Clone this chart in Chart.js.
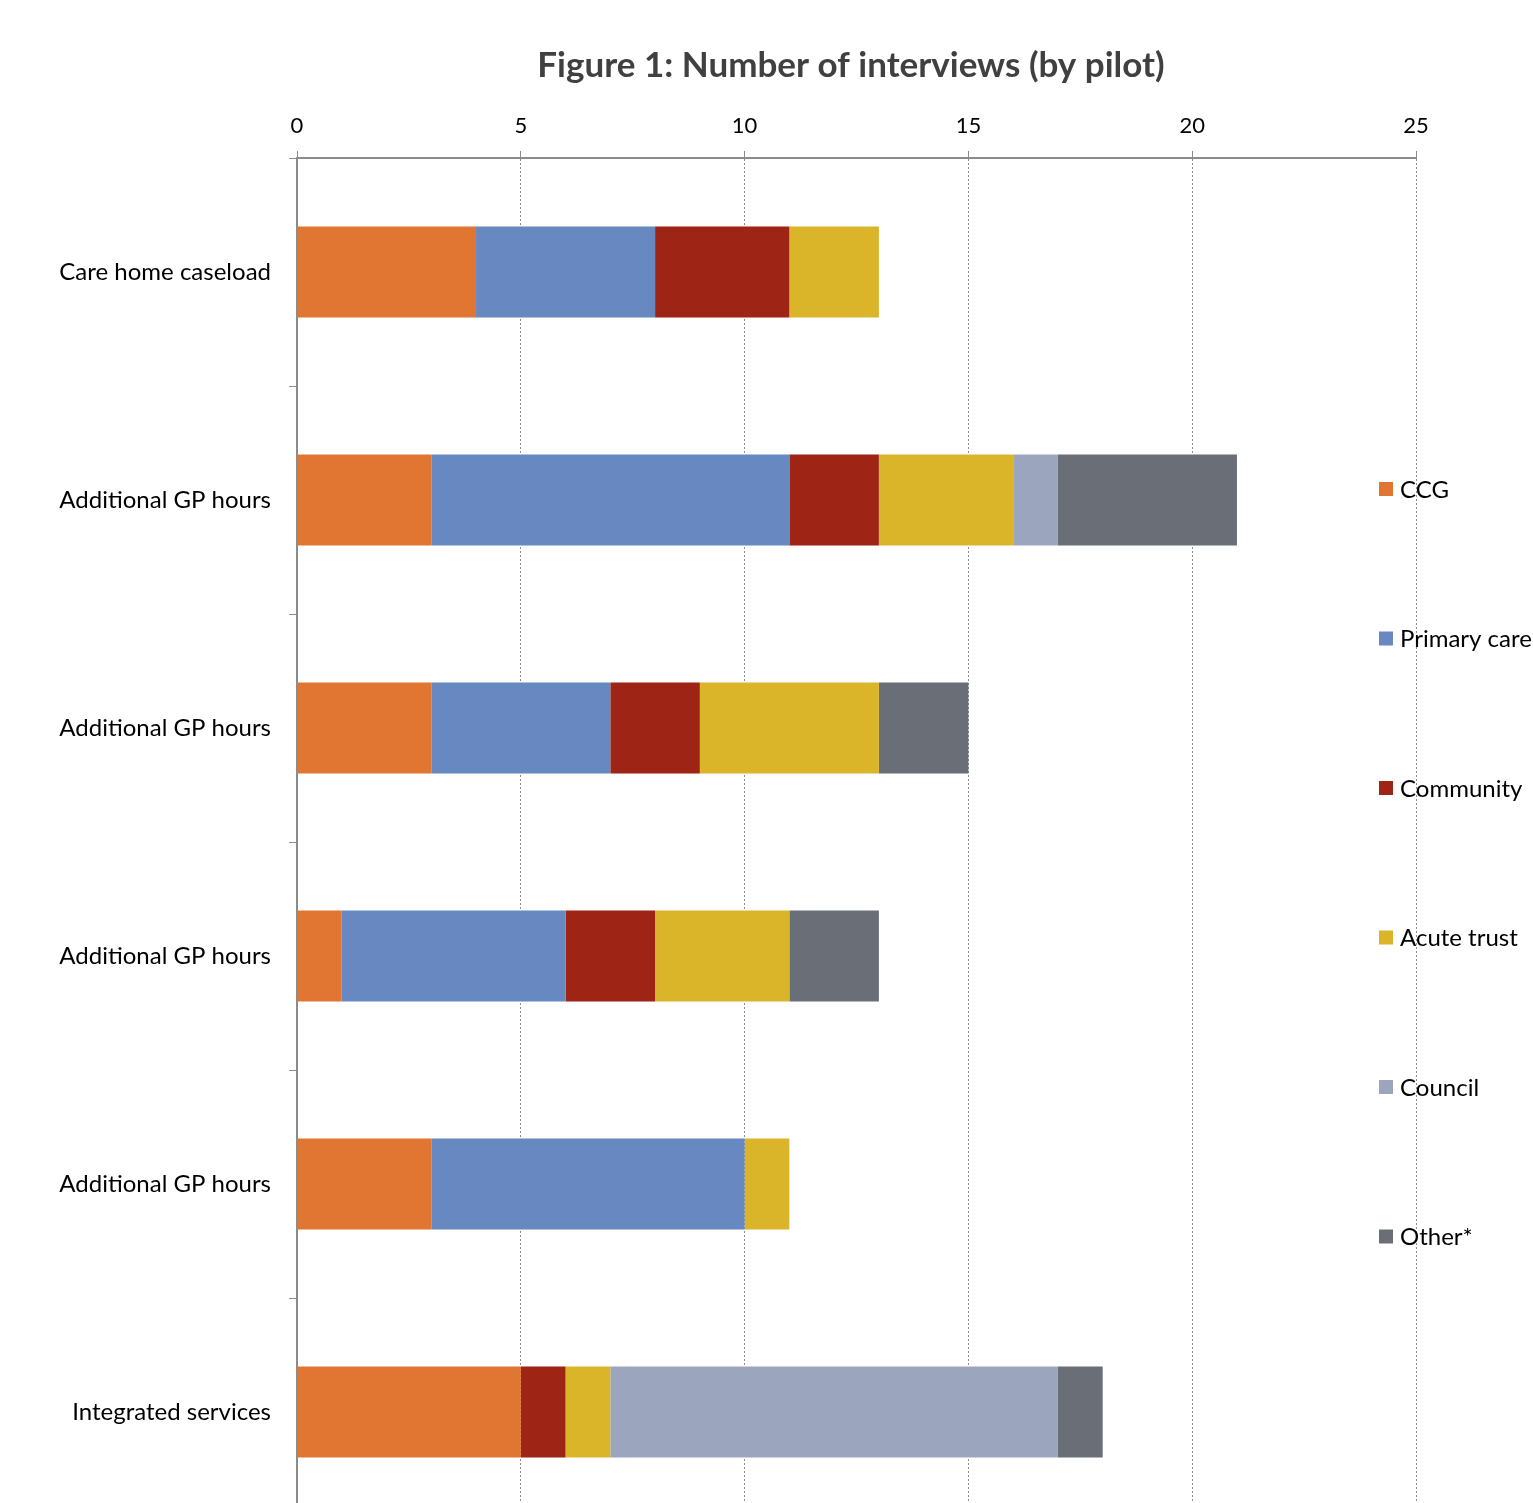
<!DOCTYPE html>
<html>
<head>
<meta charset="utf-8">
<script src="https://cdn.jsdelivr.net/npm/chart.js@4"></script>
<style>
  html, body { margin: 0; padding: 0; background: #fff; overflow: hidden; }
  #wrap { width: 1702px; height: 1530px; }
</style>
</head>
<body>
<div id="wrap"><canvas id="chart" width="1702" height="1530"></canvas></div>
<script>
const title = "Figure 1: Number of interviews (by pilot)";
const categories = ["Care home caseload", "Additional GP hours", "Additional GP hours", "Additional GP hours", "Additional GP hours", "Integrated services"];
const ccg       = [4, 3, 3, 1, 3, 5];
const primary   = [4, 8, 4, 5, 7, null];
const community = [3, 2, 2, 2, null, 1];
const acute     = [2, 3, 4, 3, 1, 1];
const council   = [null, 1, null, null, null, 10];
const other     = [null, 4, 2, 2, null, 1];
const xTicks    = [0, 5, 10, 15, 20, 25];

const FONT = "Lato, 'Open Sans', sans-serif";
const GREY = "#8c8c8c";

function ds(label, data, color) {
  return {
    label, data,
    backgroundColor: color,
    borderWidth: 0,
    barPercentage: 1,
    categoryPercentage: 0.4
  };
}

// title + legend drawn at fixed spots, like the original (legend runs off the right edge)
const decor = {
  id: "decor",
  afterDraw(chart) {
    const ctx = chart.ctx;
    ctx.save();
    ctx.textBaseline = "middle";
    ctx.textAlign = "center";
    ctx.fillStyle = "#404040";
    ctx.font = "bold 35px " + FONT;
    ctx.fillText(title, 851, 66);

    ctx.textAlign = "left";
    ctx.font = "24px " + FONT;
    chart.data.datasets.forEach((d, i) => {
      const y = 489 + i * 149.5;
      ctx.fillStyle = d.backgroundColor;
      ctx.fillRect(1379, y - 7, 14, 14);
      ctx.fillStyle = "#000";
      ctx.fillText(d.label, 1400, y + 1);
    });
    ctx.restore();
  }
};

new Chart(document.getElementById("chart"), {
  type: "bar",
  data: {
    labels: categories,
    datasets: [
      ds("CCG", ccg, "#e07631"),
      ds("Primary care", primary, "#6788c0"),
      ds("Community", community, "#9e2515"),
      ds("Acute trust", acute, "#dab52a"),
      ds("Council", council, "#9ba5be"),
      ds("Other*", other, "#6a6e76")
    ]
  },
  options: {
    indexAxis: "y",
    responsive: false,
    animation: false,
    layout: { autoPadding: false, padding: { left: 0, right: 286, top: 85, bottom: 4 } },
    plugins: {
      legend: { display: false },
      tooltip: { enabled: false },
      title: { display: false }
    },
    scales: {
      x: {
        position: "top",
        stacked: true,
        min: 0, max: 25,
        afterBuildTicks(scale) { scale.ticks = xTicks.map(v => ({ value: v })); },
        afterFit(scale) { scale.height = 73; },
        ticks: { color: "#000", padding: 12, font: { family: FONT, size: 22 } },
        grid: { color: GREY, lineWidth: 1, tickLength: 7, drawTicks: true },
        border: { display: true, color: GREY, width: 2, dash: [2, 2] }
      },
      y: {
        stacked: true,
        afterFit(scale) {
          scale.width = 297;
          // plot runs off the bottom of the page in the original
          scale.paddingTop = 0;
          scale.paddingBottom = 0;
        },
        ticks: { color: "#000", padding: 18, font: { family: FONT, size: 24 } },
        grid: { display: true, offset: true, drawOnChartArea: false, color: GREY, tickLength: 8 },
        border: { display: true, color: GREY, width: 2 }
      }
    }
  },
  plugins: [decor]
});
</script>
</body>
</html>
